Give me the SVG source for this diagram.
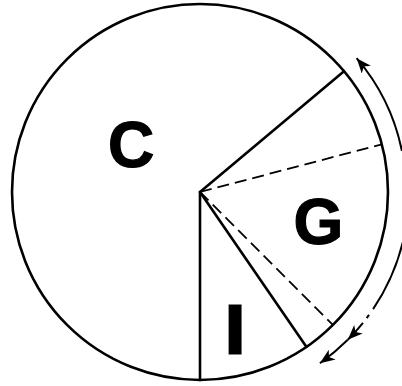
<svg xmlns="http://www.w3.org/2000/svg" width="402" height="386" viewBox="0 0 402 386">
<style>
.solid{fill:none;stroke:#000;stroke-width:2.6;stroke-linecap:round}
.dash{fill:none;stroke:#000;stroke-width:1.8;stroke-dasharray:12 6}
.arc{fill:none;stroke:#000;stroke-width:2}
.lbl{font-family:"Liberation Sans",Arial,sans-serif;font-weight:bold;fill:#000;stroke:#000;text-anchor:middle}
</style>
<defs>
<marker id="ah" markerUnits="userSpaceOnUse" markerWidth="18" markerHeight="14" refX="15" refY="6" orient="auto">
<path d="M15,6 L0,0 L4,6 L0,12 Z" fill="#000"/>
</marker>
</defs>
<rect width="402" height="386" fill="#fff"/>
<g id="pie">
<circle cx="200" cy="192" r="188" fill="none" stroke="#000" stroke-width="2.6"/>
</g>
<g id="connectors">
<line class="solid" x1="200" y1="192" x2="200" y2="380"/>
<line class="solid" x1="200" y1="192" x2="344" y2="71.2"/>
<line class="solid" x1="200" y1="192" x2="306.5" y2="347"/>
<line class="dash" x1="200" y1="192" x2="381.9" y2="144.3"/>
<line class="dash" x1="200" y1="192" x2="332.9" y2="324.9"/>
<path class="arc" d="M401.9,150.9 A206,206 0 0 0 356.6,58.2" marker-end="url(#ah)"/>
<path class="arc" d="M403.2,240.8 A209,209 0 0 1 347.8,339.8" stroke-dasharray="75 7 4 6 200" marker-end="url(#ah)"/>
<path class="arc" d="M347.8,339.8 A209,209 0 0 1 319.9,363.2" marker-end="url(#ah)"/>
</g>
<g id="label-C"><text class="lbl" x="131" y="167" font-size="64" stroke-width="1.2">C</text></g>
<g id="label-G"><text class="lbl" x="318.5" y="244" font-size="64" stroke-width="1.2">G</text></g>
<g id="label-I"><text class="lbl" x="235" y="353" font-size="69" stroke-width="3">I</text></g>
</svg>
